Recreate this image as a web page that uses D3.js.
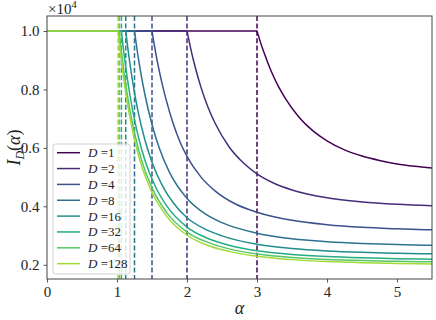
<!DOCTYPE html>
<html>
<head>
<meta charset="utf-8">
<script src="https://cdn.jsdelivr.net/npm/d3@7"></script>
<style>
  body { margin: 0; background: #fff; }
  svg { display: block; }
  text { font-family: "Liberation Serif", "DejaVu Serif", serif; }
</style>
</head>
<body>
<svg id="chart" width="436" height="320"></svg>
<script>
// dimensions D and the critical alpha where each curve leaves the plateau
var dims = [1, 2, 4, 8, 16, 32, 64, 128];
var alphaCrit = [3, 2, 1.5, 1.25, 1.125, 1.0625, 1.03125, 1.015625];
var plateau = 1.0;   // in units of 1e4

// decay part of every curve, [alpha, I_D]
var decayD1 = [[3,1],[3.05,0.961],[3.1,0.926],[3.2,0.864],[3.3,0.813],[3.4,0.771],[3.6,0.705],[3.8,0.658],[4,0.624],[4.25,0.593],[4.5,0.572],[4.75,0.557],[5,0.545],[5.25,0.537],[5.5,0.531]];
var decayD2 = [[2,1],[2.05,0.943],[2.1,0.892],[2.2,0.807],[2.3,0.739],[2.4,0.685],[2.6,0.604],[2.8,0.55],[3,0.511],[3.25,0.478],[3.5,0.456],[4,0.429],[4.5,0.415],[5,0.407],[5.5,0.402]];
var decayD4 = [[1.5,1],[1.53,0.956],[1.56,0.916],[1.6,0.868],[1.65,0.814],[1.7,0.767],[1.8,0.685],[1.9,0.62],[2,0.571],[2.2,0.5],[2.4,0.453],[2.7,0.407],[3,0.38],[3.5,0.352],[4,0.337],[4.5,0.328],[5,0.323],[5.5,0.3195]];
var decayD8 = [[1.25,1],[1.275,0.956],[1.3,0.915],[1.35,0.843],[1.4,0.781],[1.5,0.68],[1.6,0.602],[1.75,0.516],[2,0.427],[2.25,0.376],[2.5,0.344],[3,0.308],[3.5,0.289],[4,0.279],[4.5,0.273],[5,0.269],[5.5,0.2665]];
var decayD16 = [[1.125,1],[1.15,0.95],[1.175,0.9045],[1.2,0.863],[1.25,0.789],[1.3,0.726],[1.4,0.626],[1.5,0.551],[1.65,0.47],[1.8,0.413],[2,0.361],[2.25,0.323],[2.5,0.299],[3,0.27],[3.5,0.2555],[4,0.2474],[4.5,0.2426],[5,0.2395],[5.5,0.2375]];
var decayD32 = [[1.0625,1],[1.08,0.962],[1.1,0.922],[1.13,0.867],[1.17,0.8025],[1.22,0.733],[1.3,0.643],[1.4,0.557],[1.55,0.467],[1.7,0.405],[2,0.329],[2.3,0.29],[2.6,0.267],[3,0.248],[3.5,0.2353],[4,0.228],[4.5,0.2237],[5,0.2209],[5.5,0.219]];
var decayD64 = [[1.03125,1],[1.05,0.958],[1.07,0.917],[1.1,0.86],[1.14,0.7935],[1.19,0.722],[1.26,0.641],[1.35,0.559],[1.5,0.463],[1.7,0.382],[2,0.312],[2.3,0.2765],[2.6,0.2544],[3,0.2371],[3.5,0.2251],[4,0.2184],[4.5,0.2144],[5,0.2118],[5.5,0.21]];
var decayD128 = [[1.015625,1],[1.035,0.956],[1.055,0.9135],[1.085,0.856],[1.125,0.788],[1.175,0.716],[1.24,0.639],[1.33,0.555],[1.47,0.4625],[1.7,0.369],[2,0.301],[2.3,0.266],[2.6,0.2458],[3,0.229],[3.5,0.2176],[4,0.2111],[4.5,0.2072],[5,0.2047],[5.5,0.203]];
var decays = [decayD1, decayD2, decayD4, decayD8, decayD16, decayD32, decayD64, decayD128];

var xTicks = [0, 1, 2, 3, 4, 5];
var yTicks = [0.2, 0.4, 0.6, 0.8, 1.0];

var svg = d3.select("#chart");
var padL = 47, padR = 432, padT = 16, padB = 279;

var x = d3.scaleLinear().domain([0, 5.5]).range([padL, padR]);
var y = d3.scaleLinear().domain([0.1513, 1.0513]).range([padB, padT]);

var colors = dims.map(function (d, i) { return d3.interpolateViridis(i * 0.86 / 7); });

svg.append("defs").append("clipPath").attr("id", "clip")
  .append("rect").attr("x", padL).attr("y", padT)
  .attr("width", padR - padL).attr("height", padB - padT);

var plot = svg.append("g").attr("clip-path", "url(#clip)");

var line = d3.line()
  .x(function (d) { return x(d[0]); })
  .y(function (d) { return y(d[1]); });
var curveLine = d3.line()
  .x(function (d) { return x(d[0]); })
  .y(function (d) { return y(d[1]); })
  .curve(d3.curveMonotoneX);

dims.forEach(function (D, i) {
  // flat part
  plot.append("path")
    .attr("d", line([[0, plateau], [alphaCrit[i], plateau]]))
    .attr("fill", "none").attr("stroke", colors[i]).attr("stroke-width", 1.5);
  // decay
  plot.append("path")
    .attr("d", curveLine(decays[i]))
    .attr("fill", "none").attr("stroke", colors[i]).attr("stroke-width", 1.5);
  // critical alpha marker
  plot.append("line")
    .attr("x1", x(alphaCrit[i])).attr("x2", x(alphaCrit[i]))
    .attr("y1", padT).attr("y2", padB)
    .attr("stroke", colors[i]).attr("stroke-width", 1.5)
    .attr("stroke-dasharray", "5,2.4");
});

// axes
var gx = svg.append("g").attr("transform", "translate(0," + padB + ")")
  .call(d3.axisBottom(x).tickValues(xTicks).tickSize(3.5).tickPadding(4).tickFormat(d3.format("d")));
var gy = svg.append("g").attr("transform", "translate(" + padL + ",0)")
  .call(d3.axisLeft(y).tickValues(yTicks).tickSize(3.5).tickPadding(4).tickFormat(d3.format(".1f")));
[gx, gy].forEach(function (g) {
  g.select(".domain").remove();
  g.selectAll(".tick line").attr("stroke", "#444").attr("stroke-width", 0.9);
  g.selectAll(".tick text").attr("fill", "#222").style("font-size", "15px")
    .style("font-family", "'Liberation Serif', serif");
});

svg.append("rect").attr("x", padL).attr("y", padT)
  .attr("width", padR - padL).attr("height", padB - padT)
  .attr("fill", "none").attr("stroke", "#444").attr("stroke-width", 1);

// offset text
var off = svg.append("text").attr("x", 48).attr("y", 14).attr("fill", "#222").style("font-size", "15px");
off.append("tspan").text("\u00d710");
off.append("tspan").attr("dy", -6).style("font-size", "10.5px").text("4");

// axis labels
svg.append("text").attr("x", (padL + padR) / 2).attr("y", 314)
  .attr("text-anchor", "middle").attr("fill", "#222")
  .style("font-size", "18px").style("font-style", "italic").text("\u03b1");

var yl = svg.append("text")
  .attr("transform", "translate(20," + ((padT + padB) / 2) + ") rotate(-90)")
  .attr("text-anchor", "middle").attr("fill", "#222").style("font-size", "18px");
yl.append("tspan").style("font-style", "italic").text("I");
yl.append("tspan").attr("dy", 4).style("font-size", "12px").style("font-style", "italic").text("D");
yl.append("tspan").attr("dy", -4).text("(");
yl.append("tspan").style("font-style", "italic").text("\u03b1");
yl.append("tspan").text(")");

// legend
var lg = svg.append("g");
lg.append("rect").attr("x", 53).attr("y", 144).attr("width", 77).attr("height", 130)
  .attr("rx", 2.5).attr("fill", "#fff").attr("fill-opacity", 0.8)
  .attr("stroke", "#d0d0d0").attr("stroke-width", 1);
dims.forEach(function (D, i) {
  var yy = 152.7 + i * 15.85;
  lg.append("line").attr("x1", 57).attr("x2", 80).attr("y1", yy).attr("y2", yy)
    .attr("stroke", colors[i]).attr("stroke-width", 1.5);
  var t = lg.append("text").attr("x", 88).attr("y", yy + 4.5).attr("fill", "#222").style("font-size", "13px");
  t.append("tspan").style("font-style", "italic").text("D");
  t.append("tspan").text(" =" + D);
});
</script>
</body>
</html>
